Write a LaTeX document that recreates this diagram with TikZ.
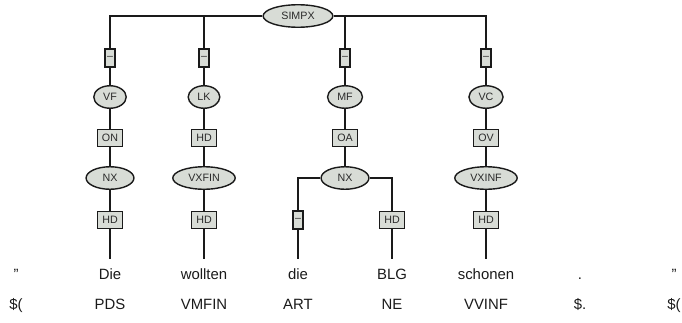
\documentclass[tikz,border=0pt]{standalone}
\usepackage{fontspec}
\setmainfont{Liberation Sans}
\usetikzlibrary{shapes.geometric}
\definecolor{TGFill}{HTML}{D8DCD6}
\definecolor{TGText}{HTML}{2A2A2A}
\definecolor{TGLine}{HTML}{1A1A1A}

\begin{document}
\begin{tikzpicture}[x=0.025cm,y=-0.025cm,
  cat/.style={ellipse,draw=TGLine,line width=1pt,fill=TGFill,text=TGText,
    font=\fontsize{7.6}{9}\selectfont,inner ysep=0pt,minimum height=16pt},
  phrase/.style={cat,inner xsep=4.5pt,minimum width=34pt},
  field/.style={cat,inner xsep=3.3pt,minimum width=22pt},
  edgelab/.style={rectangle,draw=TGLine,line width=1pt,fill=TGFill,text=TGText,
    font=\fontsize{7.6}{9}\selectfont,inner sep=0pt,minimum width=17.8pt,minimum height=12pt},
  dashlab/.style={edgelab,minimum width=7.1pt,minimum height=13pt},
  word/.style={font=\fontsize{10.6}{12}\selectfont,text=TGLine,text height=8pt,text depth=2pt,
    inner ysep=6.5pt,anchor=base},
  tag/.style={font=\fontsize{10.6}{12}\selectfont,text=TGLine,anchor=base},
  link/.style={draw=TGLine,line width=.95pt}]
\path[use as bounding box] (0,0) rectangle (682,322);
% root
\node[phrase,inner xsep=5.7pt] (simpx) at (298,16) {SIMPX};
% topological fields
\node[dashlab] (dvf) at (110,58) {--};
\node[dashlab] (dlk) at (204,58) {--};
\node[dashlab] (dmf) at (345,58) {--};
\node[dashlab] (dvc) at (486,58) {--};
\node[field] (vf) at (110,97) {VF};
\node[field] (lk) at (204,97) {LK};
\node[field] (mf) at (345,97) {MF};
\node[field] (vc) at (486,97) {VC};
\node[edgelab] (on) at (110,138) {ON};
\node[edgelab] (hdlk) at (204,138) {HD};
\node[edgelab] (oa) at (345,138) {OA};
\node[edgelab] (ov) at (486,138) {OV};
% phrases
\node[phrase] (nxvf) at (110,178) {NX};
\node[phrase] (vxfin) at (204,178) {VXFIN};
\node[phrase] (nxmf) at (345,178) {NX};
\node[phrase] (vxinf) at (486,178) {VXINF};
\node[edgelab] (hdnxvf) at (110,220) {HD};
\node[edgelab] (hdvxfin) at (204,220) {HD};
\node[dashlab] (dnxmf) at (298,220) {--};
\node[edgelab] (hdnxmf) at (392,220) {HD};
\node[edgelab] (hdvxinf) at (486,220) {HD};
% words
\node[word] (w0) at (16,279.5) {"};
\node[word] (w1) at (110,279.5) {Die};
\node[word] (w2) at (204,279.5) {wollten};
\node[word] (w3) at (298,279.5) {die};
\node[word] (w4) at (392,279.5) {BLG};
\node[word] (w5) at (486,279.5) {schonen};
\node[word] (w6) at (580,279.5) {.};
\node[word] (w7) at (674,279.5) {"};
% part-of-speech tags
\node[tag] (t0) at (16,309.5) {\$(};
\node[tag] (t1) at (110,309.5) {PDS};
\node[tag] (t2) at (204,309.5) {VMFIN};
\node[tag] (t3) at (298,309.5) {ART};
\node[tag] (t4) at (392,309.5) {NE};
\node[tag] (t5) at (486,309.5) {VVINF};
\node[tag] (t6) at (580,309.5) {\$.};
\node[tag] (t7) at (674,309.5) {\$(};
% connectors
\path[link] (simpx) -| (dvf);
\path[link] (simpx) -| (dlk);
\path[link] (simpx) -| (dmf);
\path[link] (simpx) -| (dvc);
\path[link] (dvf) -- (vf) -- (on) -- (nxvf) -- (hdnxvf) -- (w1);
\path[link] (dlk) -- (lk) -- (hdlk) -- (vxfin) -- (hdvxfin) -- (w2);
\path[link] (dmf) -- (mf) -- (oa) -- (nxmf);
\path[link] (nxmf) -| (dnxmf);
\path[link] (nxmf) -| (hdnxmf);
\path[link] (dnxmf) -- (w3);
\path[link] (hdnxmf) -- (w4);
\path[link] (dvc) -- (vc) -- (ov) -- (vxinf) -- (hdvxinf) -- (w5);
\end{tikzpicture}
\end{document}
